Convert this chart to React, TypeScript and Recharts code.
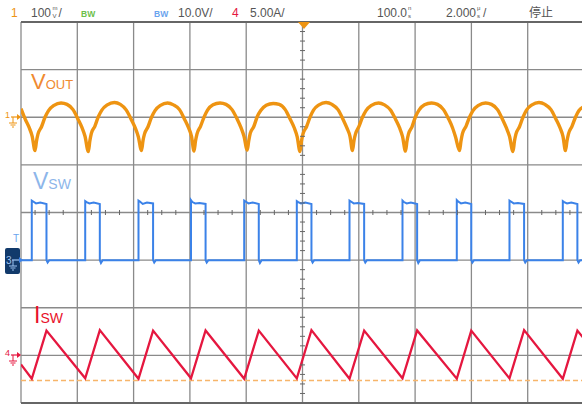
import { CartesianGrid, ComposedChart, Line, ReferenceLine, Scatter, XAxis, YAxis } from 'recharts'

// time in µs (2 µs/div, trigger at 0), values in channel units
const timeTicks = [-10, -8, -6, -4, -2, 0, 2, 4, 6, 8, 10]
const vswTicks = [-30, -20, -10, 0, 10, 20, 30, 40, 50]

// CH1 Vout ripple, mV (100 mV/div)
const voutRaw: [number, number][] = [
  [-10.0, 18], [-9.851, -4], [-9.708, -22], [-9.602, -40],
  [-9.502, -70], [-9.449, -50], [-9.395, -35], [-9.271, -20], [-9.147, 0], [-9.022, 14], [-8.827, 25], [-8.578, 30], [-8.365, 27], [-8.152, 16], [-7.975, -4], [-7.832, -22], [-7.726, -40],
  [-7.608, -72], [-7.555, -50], [-7.501, -34], [-7.377, -19], [-7.253, 1], [-7.128, 15], [-6.933, 26], [-6.684, 31], [-6.471, 27], [-6.258, 15], [-6.081, -5], [-5.938, -23], [-5.832, -41],
  [-5.719, -70], [-5.666, -49], [-5.612, -35], [-5.488, -20], [-5.364, 0], [-5.239, 14], [-5.044, 25], [-4.795, 30], [-4.582, 26], [-4.369, 16], [-4.192, -4], [-4.049, -22], [-3.943, -40],
  [-3.854, -71], [-3.801, -50], [-3.747, -35], [-3.623, -19], [-3.499, 0], [-3.374, 15], [-3.179, 26], [-2.93, 30], [-2.717, 27], [-2.504, 16], [-2.327, -3], [-2.184, -22], [-2.078, -40],
  [-1.964, -69], [-1.911, -50], [-1.857, -34], [-1.733, -20], [-1.609, 1], [-1.484, 14], [-1.289, 25], [-1.04, 29], [-0.827, 27], [-0.614, 16], [-0.437, -4], [-0.294, -22], [-0.188, -41],
  [-0.089, -72], [-0.036, -50], [0.018, -35], [0.142, -20], [0.266, 0], [0.391, 15], [0.586, 26], [0.835, 31], [1.048, 27], [1.261, 16], [1.438, -4], [1.581, -23], [1.687, -40],
  [1.776, -70], [1.829, -49], [1.883, -35], [2.007, -19], [2.131, 0], [2.256, 14], [2.451, 25], [2.7, 30], [2.913, 26], [3.126, 15], [3.303, -4], [3.446, -22], [3.552, -40],
  [3.659, -71], [3.712, -50], [3.766, -35], [3.89, -20], [4.014, 1], [4.139, 15], [4.334, 26], [4.583, 30], [4.796, 27], [5.009, 16], [5.186, -3], [5.329, -22], [5.435, -41],
  [5.577, -70], [5.63, -50], [5.684, -34], [5.808, -19], [5.932, 0], [6.057, 14], [6.252, 25], [6.501, 30], [6.714, 27], [6.927, 16], [7.104, -4], [7.247, -23], [7.353, -40],
  [7.477, -72], [7.53, -50], [7.584, -35], [7.708, -20], [7.832, 0], [7.957, 15], [8.152, 26], [8.401, 31], [8.614, 27], [8.827, 16], [9.004, -4], [9.147, -22], [9.253, -40],
  [9.342, -70], [9.395, -50], [9.449, -35], [9.573, -19], [9.697, 0], [9.822, 14], [10.0, 22],
]

// CH3 switch node, V (10 V/div)
const vswRaw: [number, number][] = [
  [-10, 0],
  [-9.617, 0], [-9.617, 12.5], [-9.567, 12.3], [-9.467, 11.9], [-9.317, 12.1], [-9.095, 11.8], [-9.095, 0], [-9.055, -0.5], [-8.995, 0],
  [-7.719, 0], [-7.719, 12.4], [-7.669, 12.2], [-7.569, 11.9], [-7.419, 12.1], [-7.2, 11.8], [-7.2, 0], [-7.16, -0.6], [-7.1, 0],
  [-5.826, 0], [-5.826, 12.5], [-5.776, 12.3], [-5.676, 11.8], [-5.526, 12.1], [-5.308, 11.9], [-5.308, 0], [-5.268, -0.5], [-5.208, 0],
  [-3.961, 0], [-3.961, 12.6], [-3.911, 12.2], [-3.811, 11.9], [-3.661, 12.0], [-3.443, 11.8], [-3.443, 0], [-3.403, -0.5], [-3.343, 0],
  [-2.071, 0], [-2.071, 12.5], [-2.021, 12.3], [-1.921, 11.9], [-1.771, 12.1], [-1.553, 11.8], [-1.553, 0], [-1.513, -0.6], [-1.453, 0],
  [-0.202, 0], [-0.202, 12.4], [-0.152, 12.2], [-0.052, 11.9], [0.098, 12.1], [0.318, 11.8], [0.318, 0], [0.358, -0.5], [0.418, 0],
  [1.67, 0], [1.67, 12.5], [1.72, 12.3], [1.82, 11.9], [1.97, 12.0], [2.19, 11.8], [2.19, 0], [2.23, -0.5], [2.29, 0],
  [3.552, 0], [3.552, 12.5], [3.602, 12.2], [3.702, 11.9], [3.852, 12.1], [4.072, 11.8], [4.072, 0], [4.112, -0.6], [4.172, 0],
  [5.481, 0], [5.481, 12.6], [5.531, 12.3], [5.631, 11.9], [5.781, 12.1], [5.995, 11.8], [5.995, 0], [6.035, -0.5], [6.095, 0],
  [7.353, 0], [7.353, 12.5], [7.403, 12.3], [7.503, 11.9], [7.653, 12.0], [7.872, 11.8], [7.872, 0], [7.912, -0.5], [7.972, 0],
  [9.247, 0], [9.247, 12.4], [9.297, 12.2], [9.397, 11.9], [9.547, 12.1], [9.765, 11.8], [9.765, 0], [9.805, -0.5], [9.865, 0],
  [10, 0],
]

// CH4 switch current, A (5 A/div)
const iswRaw: [number, number][] = [
  [-10, -0.95], [-9.617, -2.45], [-9.095, 2.6], [-7.719, -2.4], [-7.2, 2.65], [-5.826, -2.45], [-5.308, 2.6],
  [-3.961, -2.4], [-3.443, 2.62], [-2.071, -2.45], [-1.553, 2.6], [-0.202, -2.42], [0.318, 2.65], [1.67, -2.45],
  [2.19, 2.6], [3.552, -2.4], [4.072, 2.62], [5.481, -2.45], [5.995, 2.6], [7.353, -2.42], [7.872, 2.65],
  [9.247, -2.45], [9.765, 2.6], [10, 1.75],
]

// minor graticule ticks on the centre cross
const hMinor = [-9.5, -9, -8.5, -7.5, -7, -6.5, -5.5, -5, -4.5, -3.5, -3, -2.5, -1.5, -1, -0.5, 0.5, 1, 1.5, 2.5, 3, 3.5, 4.5, 5, 5.5, 6.5, 7, 7.5, 8.5, 9, 9.5]
const vMinor = [-28, -26, -24, -22, -18, -16, -14, -12, -8, -6, -4, -2, 2, 4, 6, 8, 12, 14, 16, 18, 22, 24, 26, 28, 32, 34, 36, 38, 42, 44, 46, 48]

const toPts = (arr: [number, number][]) => arr.map(([t, v]) => ({ t, v }))
const vout = toPts(voutRaw)
const vsw = toPts(vswRaw)
const isw = toPts(iswRaw)
const hTicks = hMinor.map((t) => ({ t, v: 10 }))
const vTicks = vMinor.map((v) => ({ t: 0, v }))

const ORANGE = '#ee9412'
const BLUE = '#3b82e8'
const RED = '#e5173f'
const GRID = '#8a8a8a'
const FONT = 'Liberation Sans, Arial, sans-serif'

// tiny two-line unit glyph used by the scope's status bar
const Stack = ({ x, top, bottom }: { x: number; top: string; bottom: string }) => (
  <>
    <text x={x} y={9.5} fontSize={6} fill="#555" fontFamily={FONT}>{top}</text>
    <text x={x} y={17.5} fontSize={6} fill="#555" fontFamily={FONT}>{bottom}</text>
  </>
)

const Ground = ({ x, y, color }: { x: number; y: number; color: string }) => (
  <g stroke={color} strokeWidth={1}>
    <line x1={x} y1={y} x2={x} y2={y + 6} />
    <line x1={x - 4} y1={y + 6} x2={x + 4} y2={y + 6} />
    <line x1={x - 2.5} y1={y + 8} x2={x + 2.5} y2={y + 8} />
    <line x1={x - 1} y1={y + 10} x2={x + 1} y2={y + 10} />
  </g>
)

const Marker = ({ y, label, color }: { y: number; label: string; color: string }) => (
  <g>
    <text x={5} y={y + 1} fontSize={9} fill={color} fontFamily={FONT}>{label}</text>
    <line x1={11} y1={y} x2={18} y2={y} stroke={color} strokeWidth={1.2} />
    <polygon points={`${17},${y - 3} ${21},${y} ${17},${y + 3}`} fill={color} />
    <Ground x={13} y={y} color={color} />
  </g>
)

const Overlay = () => (
  <svg width={582} height={405} style={{ position: 'absolute', left: 0, top: 0, pointerEvents: 'none' }}>
    {/* status bar */}
    <g fontFamily={FONT} fontSize={12} fill="#555">
      <text x={11} y={17.3} fill={ORANGE}>1</text>
      <text x={31} y={17.3}>100</text>
      <Stack x={52.5} top="m" bottom="V" />
      <text x={58.5} y={17.3}>/</text>
      <text x={81} y={16.5} fontSize={8.5} fontWeight="bold" fill="#6cc04a">BW</text>
      <text x={154} y={16.5} fontSize={8.5} fontWeight="bold" fill="#6aa4ee">BW</text>
      <text x={178} y={17.3}>10.0V/</text>
      <text x={232} y={17.3} fill={RED}>4</text>
      <text x={250} y={17.3}>5.00A/</text>
      <text x={377} y={17.3}>100.0</text>
      <Stack x={408} top="n" bottom="s" />
      <text x={446} y={17.3}>2.000</text>
      <Stack x={477} top="μ" bottom="s" />
      <text x={483} y={17.3}>/</text>
      <text x={529} y={17.3} fontFamily="Noto Sans CJK SC" fontSize={12}>停止</text>
    </g>
    <polygon points="298,22 310,22 304,29" fill={ORANGE} />

    {/* trace labels */}
    <text x={31} y={88.7} fill="#f08a30" fontFamily={FONT} fontSize={22}>V<tspan fontSize={13}>OUT</tspan></text>
    <text x={33} y={189.3} fill="#8db6ea" fontFamily={FONT} fontSize={23}>V<tspan fontSize={14}>SW</tspan></text>
    <text x={34} y={323.3} fill="#e8102a" fontFamily={FONT} fontSize={23}>I<tspan fontSize={14}>SW</tspan></text>

    {/* channel markers */}
    <Marker y={117} label="1" color={ORANGE} />
    <Marker y={355} label="4" color={RED} />
    <text x={13} y={242} fontSize={10} fill="#6aa4ee" fontFamily={FONT}>T</text>
    <rect x={5} y={248} width={15} height={26} rx={2} fill="#123a6b" />
    <text x={6} y={264} fontSize={10} fill="#9ec3f2" fontFamily={FONT}>3</text>
    <line x1={12} y1={260} x2={19} y2={260} stroke="#9ec3f2" strokeWidth={1.2} />
    <polygon points="19,257 23,260 19,263" fill={BLUE} />
    <Ground x={13} y={260} color="#9ec3f2" />
  </svg>
)

const hTick = (p: any) => <line x1={p.cx} y1={p.cy - 2.5} x2={p.cx} y2={p.cy + 2.5} stroke="#666" strokeWidth={1} />
const vTick = (p: any) => <line x1={p.cx - 2.5} y1={p.cy} x2={p.cx + 2.5} y2={p.cy} stroke="#666" strokeWidth={1} />

export default function App() {
  return (
    <div style={{ position: 'absolute', left: 0, top: 0, width: 582, height: 405, overflow: 'hidden', background: '#fff' }}>
      <ComposedChart width={590} height={405} margin={{ top: 22, right: 6, bottom: 2, left: 21 }}>
        <XAxis dataKey="t" type="number" domain={[-10, 10]} ticks={timeTicks} allowDataOverflow hide />
        <YAxis yAxisId="vsw" type="number" domain={[-30, 50]} ticks={vswTicks} allowDataOverflow hide />
        <YAxis yAxisId="vout" type="number" domain={[-600, 200]} allowDataOverflow hide />
        <YAxis yAxisId="isw" type="number" domain={[-5, 35]} allowDataOverflow hide />
        <CartesianGrid yAxisId="vsw" stroke={GRID} strokeWidth={1.3} />
        <ReferenceLine yAxisId="vsw" y={50} stroke="#666" strokeWidth={2} />
        <ReferenceLine yAxisId="vsw" y={-30} stroke="#666" strokeWidth={2} />
        <Scatter yAxisId="vsw" data={hTicks} dataKey="v" shape={hTick} isAnimationActive={false} />
        <Scatter yAxisId="vsw" data={vTicks} dataKey="v" shape={vTick} isAnimationActive={false} />
        <ReferenceLine yAxisId="isw" y={-2.65} stroke="#f7b56a" strokeWidth={1.5} strokeDasharray="5 3" />
        <Line yAxisId="vout" data={vout} dataKey="v" type="monotone" stroke={ORANGE} strokeWidth={3.4} dot={false} activeDot={false} isAnimationActive={false} />
        <Line yAxisId="vsw" data={vsw} dataKey="v" type="linear" stroke={BLUE} strokeWidth={2} dot={false} activeDot={false} isAnimationActive={false} />
        <Line yAxisId="isw" data={isw} dataKey="v" type="linear" stroke={RED} strokeWidth={2.3} dot={false} activeDot={false} isAnimationActive={false} />
      </ComposedChart>
      <Overlay />
    </div>
  )
}
